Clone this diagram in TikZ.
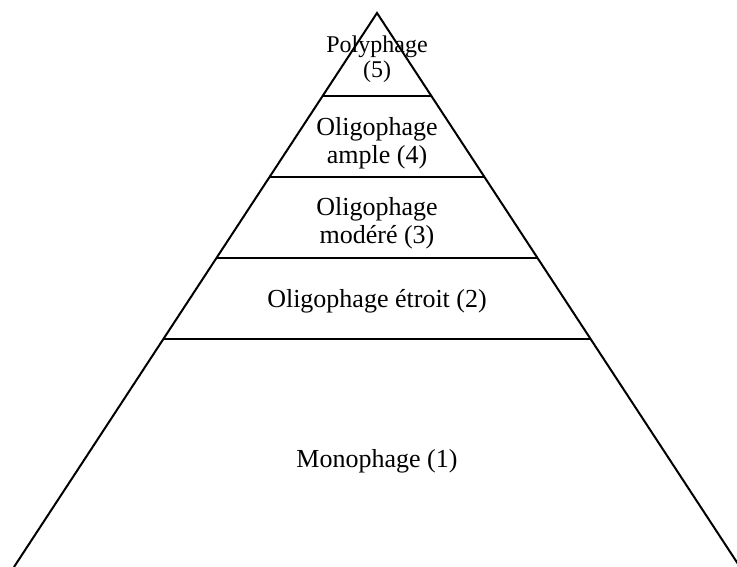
\documentclass[tikz,border=0pt]{standalone}
\usepackage{fontspec}
\setmainfont{Liberation Serif}
\usetikzlibrary{calc}
\begin{document}
\begin{tikzpicture}[x=1pt,y=1pt,
  edge/.style={line width=2pt, line join=miter},
  lbl/.style={align=center, inner sep=0pt, font=\fontsize{26}{28}\selectfont},
  lblsmall/.style={align=center, inner sep=0pt, font=\fontsize{24}{25}\selectfont}]
\useasboundingbox (0,0) rectangle (737,567);
\coordinate (A) at (377,554);
\coordinate (L) at (14,0);
\coordinate (R) at (740,0);
\draw[edge] (L) -- (A) -- (R);
\foreach \t/\n in {0.1498/a,0.2960/b,0.4422/c,0.5884/d}{
  \coordinate (l\n) at ($(A)!\t!(L)$);
  \coordinate (r\n) at ($(A)!\t!(R)$);
  \draw[edge] (l\n) -- (r\n);
}
\node[lblsmall] (n5) at (377,508) {Polyphage\\(5)};
\node[lbl] (n4) at (377,424) {Oligophage\\ample (4)};
\node[lbl] (n3) at (377,344) {Oligophage\\modéré (3)};
\node[lbl] (n2) at (377,266) {Oligophage étroit (2)};
\node[lbl] (n1) at (377,106) {Monophage (1)};
\end{tikzpicture}
\end{document}
